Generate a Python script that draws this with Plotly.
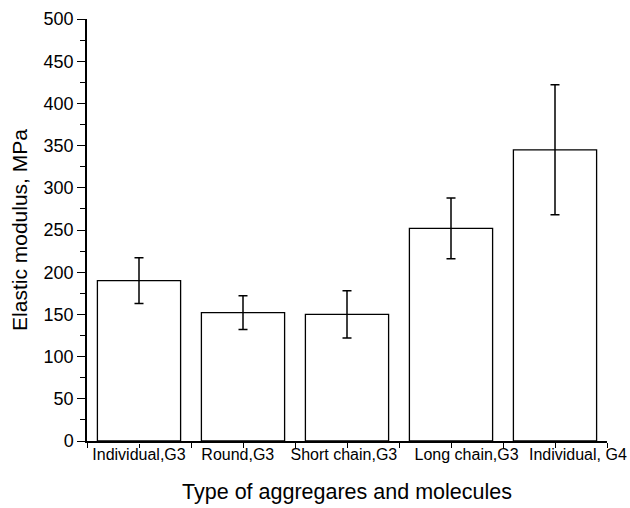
import plotly.graph_objects as go

categories = ["Individual,G3", "Round,G3", "Short chain,G3", "Long chain,G3", "Individual, G4"]
modulus = [190, 152, 150, 252, 345]
errors = [27, 20, 28, 36, 77]
y_ticks = [0, 50, 100, 150, 200, 250, 300, 350, 400, 450, 500]

# layout tweak: horizontal nudge of each category label (in category units), as in the original
label_nudge = [0.0, -0.05, -0.03, 0.15, 0.22]

xpos = list(range(len(categories)))
label_pos = [x + d for x, d in zip(xpos, label_nudge)]
mark_pos = xpos + [i - 0.5 for i in range(len(categories) + 1)]
FONT = "Liberation Sans, Arial, sans-serif"

fig = go.Figure(go.Bar(
    x=xpos, y=modulus, width=0.8,
    marker=dict(color="white", line=dict(color="black", width=1.3)),
    error_y=dict(type="data", array=errors, visible=True, color="black", thickness=1.5, width=4.5),
))

fig.update_layout(
    width=630, height=508,
    margin=dict(l=87, r=23, t=19, b=67),
    paper_bgcolor="white", plot_bgcolor="white",
    showlegend=False,
    font=dict(family=FONT, color="black"),
)
fig.update_xaxes(
    range=[-0.5, len(categories) - 0.5],
    tickmode="array", tickvals=label_pos, ticktext=categories,
    tickangle=0, automargin=False, ticklabelstandoff=-3,
    ticks="outside", ticklen=1, tickwidth=0.01, tickcolor="white",
    minor=dict(tickmode="array", tickvals=mark_pos,
               ticks="outside", ticklen=5, tickwidth=1.3, tickcolor="black"),
    showline=True, linecolor="black", linewidth=1.5,
    showgrid=False, zeroline=False,
    tickfont=dict(size=16, family=FONT, color="black"),
    title=dict(text="Type of aggregares and molecules", font=dict(size=21.5, family=FONT, color="black"), standoff=22),
)
fig.update_yaxes(
    range=[0, 500], automargin=False,
    tickmode="array", tickvals=y_ticks,
    ticks="outside", ticklen=8, tickwidth=1.3, tickcolor="black",
    minor=dict(dtick=25, ticks="outside", ticklen=5, tickwidth=1.3, tickcolor="black", showgrid=False),
    showline=True, linecolor="black", linewidth=1.5,
    showgrid=False, zeroline=False,
    tickfont=dict(size=18, family=FONT, color="black"),
    title=dict(text="Elastic modulus, MPa", font=dict(size=21, family=FONT, color="black"), standoff=10),
)

fig.write_html("out.html")
